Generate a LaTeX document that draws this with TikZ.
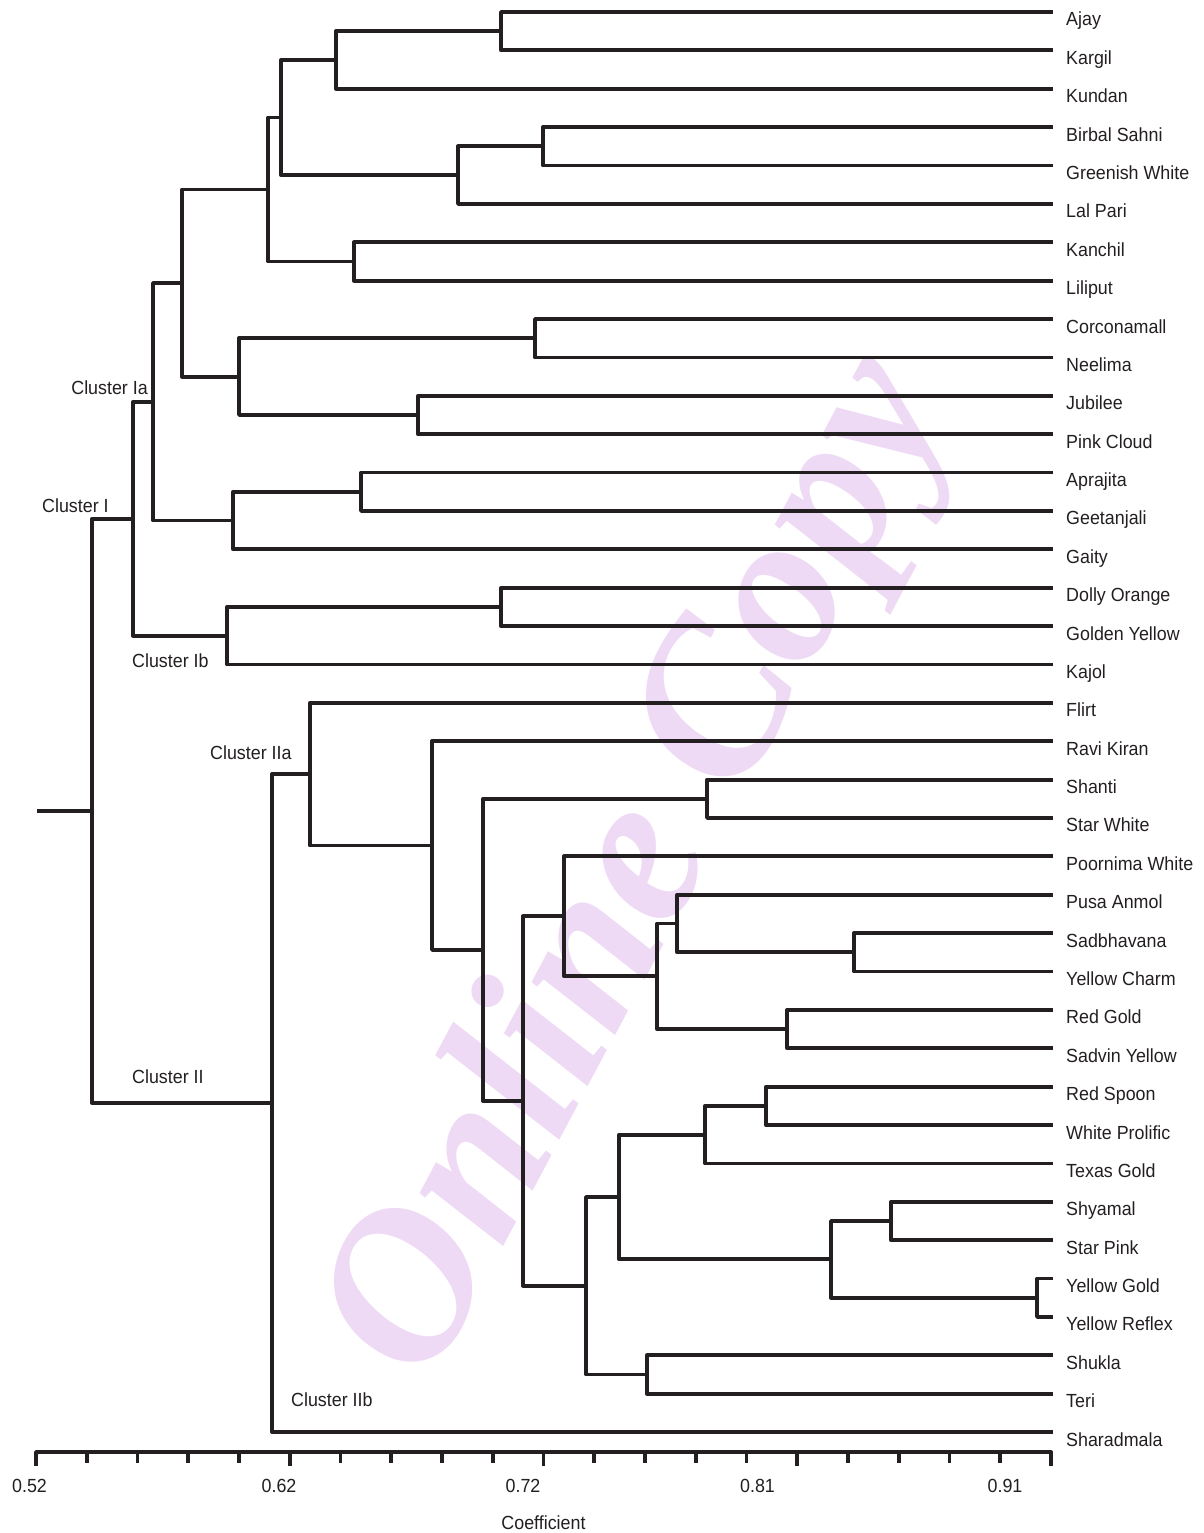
\documentclass[tikz,border=0pt]{standalone}
\usepackage{fontspec}
\setmainfont{Liberation Sans}[FakeStretch=0.94]
\newfontfamily\wmfont{Liberation Serif}
\usetikzlibrary{calc}
\definecolor{ink}{HTML}{231F20}
\definecolor{wm}{RGB}{239,218,245}
\newcommand\dendro[4]{%
  \path let \p1=($(#3)!.5!(#4)$) in (#2pt,\y1) coordinate (#1);
  \draw[branch] (#3) -| (#1) |- (#4);}
\begin{document}
\begin{tikzpicture}[x=1pt,y=-1pt,
  branch/.style={draw=ink,line width=3.8pt,line join=round},
  leaf/.style={anchor=base west,inner sep=0pt,text=ink,font=\fontsize{19}{22}\selectfont},
  clabel/.style={inner sep=0pt,text=ink,font=\fontsize{19}{22}\selectfont},
  axisline/.style={draw=ink,line width=3.8pt,line join=round},
  ticklabel/.style={anchor=base,inner sep=0pt,text=ink,font=\fontsize{19}{22}\selectfont}]
\useasboundingbox (0,0) rectangle (1203,1533);
% watermark
\node[rotate=62,text=wm,inner sep=0pt,font=\wmfont\itshape\bfseries\fontsize{215}{215}\selectfont] (WM) at (645,870) {Online Copy};
% leaves
\foreach \t [count=\i from 0] in {Ajay,Kargil,Kundan,Birbal Sahni,Greenish White,Lal Pari,Kanchil,Liliput,Corconamall,Neelima,Jubilee,Pink Cloud,Aprajita,Geetanjali,Gaity,Dolly Orange,Golden Yellow,Kajol,Flirt,Ravi Kiran,Shanti,Star White,Poornima White,Pusa Anmol,Sadbhavana,Yellow Charm,Red Gold,Sadvin Yellow,Red Spoon,White Prolific,Texas Gold,Shyamal,Star Pink,Yellow Gold,Yellow Reflex,Shukla,Teri,Sharadmala}{
  \coordinate (L\i) at (1053,{12+38.38*\i});
  \node[leaf] (T\i) at (1066,{26+38.38*\i}) {\t};
}
% Cluster I
\dendro{AK}{501}{L0}{L1}
\dendro{AKK}{336}{AK}{L2}
\dendro{BG}{543}{L3}{L4}
\dendro{BGL}{458}{BG}{L5}
\dendro{SIX}{281}{AKK}{BGL}
\dendro{KL}{354}{L6}{L7}
\dendro{EIG}{268}{SIX}{KL}
\dendro{CN}{535}{L8}{L9}
\dendro{JP}{418}{L10}{L11}
\dendro{CNJP}{239}{CN}{JP}
\dendro{TWL}{182}{EIG}{CNJP}
\dendro{AG}{361}{L12}{L13}
\dendro{AGG}{233}{AG}{L14}
\dendro{FIF}{153}{TWL}{AGG}
\dendro{DG}{501}{L15}{L16}
\dendro{DGK}{227}{DG}{L17}
\dendro{CI}{133}{FIF}{DGK}
% Cluster II
\dendro{SS}{707}{L20}{L21}
\dendro{SY}{854}{L24}{L25}
\dendro{PSY}{677}{L23}{SY}
\dendro{RS}{787}{L26}{L27}
\dendro{PSYRS}{657}{PSY}{RS}
\dendro{PW}{564}{L22}{PSYRS}
\dendro{RW}{766}{L28}{L29}
\dendro{RWT}{705}{RW}{L30}
\dendro{SP}{891}{L31}{L32}
\dendro{YY}{1037}{L33}{L34}
\dendro{SPYY}{831}{SP}{YY}
\dendro{BIGA}{619}{RWT}{SPYY}
\dendro{ST}{647}{L35}{L36}
\dendro{BIG}{586}{BIGA}{ST}
\dendro{NA}{523}{PW}{BIG}
\dendro{NB}{483}{SS}{NA}
\dendro{NC}{432}{L19}{NB}
\dendro{ND}{310}{L18}{NC}
\dendro{CII}{272}{ND}{L37}
\dendro{ROOT}{92}{CI}{CII}
\path let \p1=(ROOT) in (37pt,\y1) coordinate (STUB);
\draw[branch] (STUB) -- (ROOT);
% cluster labels
\node[clabel,anchor=base east] (cIa) at (148,394) {Cluster Ia};
\node[clabel,anchor=base west] (cI) at (42,512) {Cluster I};
\node[clabel,anchor=base west] (cIb) at (132,667) {Cluster Ib};
\node[clabel,anchor=base west] (cIIa) at (210,759) {Cluster IIa};
\node[clabel,anchor=base west] (cII) at (132,1083) {Cluster II};
\node[clabel,anchor=base west] (cIIb) at (291,1406) {Cluster IIb};
% axis
\draw[axisline] (36,1466) -- (36,1452) -- (1051,1452) -- (1051,1466);
\foreach \k in {1,...,19}{
  \pgfmathsetmacro\tx{36+50.75*\k}
  \pgfmathtruncatemacro\mj{mod(\k,5)==0 ? 1 : 0}
  \ifnum\mj=1
    \draw[axisline] (\tx,1452) -- (\tx,1466);
  \else
    \draw[axisline] (\tx,1452) -- (\tx,1463);
  \fi
}
\node[ticklabel] (a1) at (29.5,1492) {0.52};
\node[ticklabel] (a2) at (279,1492) {0.62};
\node[ticklabel] (a3) at (523,1492) {0.72};
\node[ticklabel] (a4) at (757.5,1492) {0.81};
\node[ticklabel] (a5) at (1005,1492) {0.91};
\node[ticklabel] (ax) at (543.5,1529) {Coefficient};
\end{tikzpicture}
\end{document}
